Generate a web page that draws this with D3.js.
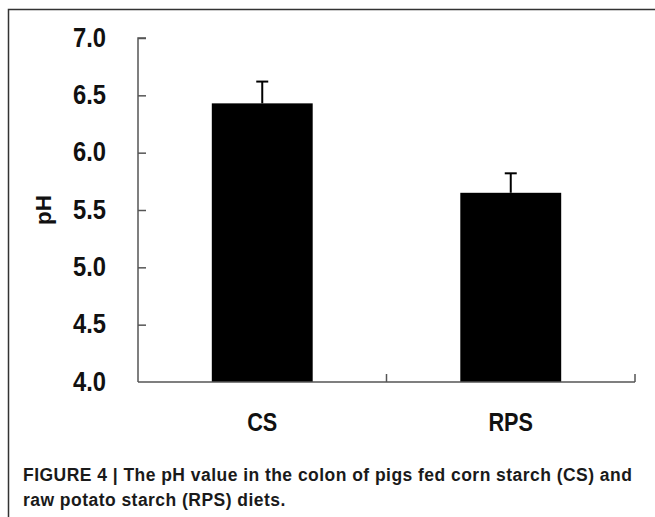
<!DOCTYPE html>
<html><head><meta charset="utf-8">
<script src="https://cdn.jsdelivr.net/npm/d3@7"></script>
<style>body{margin:0;background:#fff}svg{display:block}</style>
</head><body>
<script>
const categories = ["CS", "RPS"];
const values = [6.43, 5.65];
const errors = [0.19, 0.17];
const yTicks = [4.0, 4.5, 5.0, 5.5, 6.0, 6.5, 7.0];
const yLabel = "pH";
const captionLines = ["FIGURE 4 | The pH value in the colon of pigs fed corn starch (CS) and", "raw potato starch (RPS) diets."];

const W = 655, H = 517;
const svg = d3.select("body").append("svg").attr("width", W).attr("height", H);

// frame
svg.append("path").attr("d", `M8.5,${H} V9.5 H${W}`).attr("fill","none").attr("stroke","#333").attr("stroke-width",1.5);

const x = d3.scaleBand().domain(categories).range([138, 635]).padding(0);
const y = d3.scaleLinear().domain([4, 7]).range([382, 38]);
const barW = x.bandwidth() * 0.406;

// bars
svg.selectAll("rect.bar").data(categories).enter().append("rect")
  .attr("x", d => x(d) + x.bandwidth()/2 - barW/2)
  .attr("y", (d,i) => y(values[i]))
  .attr("width", barW)
  .attr("height", (d,i) => y(4) - y(values[i]))
  .attr("fill", "#000");

// error bars
const eg = svg.selectAll("g.err").data(categories).enter().append("g");
eg.append("line")
  .attr("x1", d => x(d) + x.bandwidth()/2).attr("x2", d => x(d) + x.bandwidth()/2)
  .attr("y1", (d,i) => y(values[i])).attr("y2", (d,i) => y(values[i] + errors[i]))
  .attr("stroke", "#000").attr("stroke-width", 2);
eg.append("line")
  .attr("x1", d => x(d) + x.bandwidth()/2 - 6).attr("x2", d => x(d) + x.bandwidth()/2 + 6)
  .attr("y1", (d,i) => y(values[i] + errors[i])).attr("y2", (d,i) => y(values[i] + errors[i]))
  .attr("stroke", "#000").attr("stroke-width", 2);

// y axis
const yAxis = d3.axisRight(y).tickValues(yTicks).tickSize(8).tickFormat("");
const ya = svg.append("g").attr("transform", "translate(138,0)").call(yAxis);
ya.select(".domain").attr("stroke", "#555").attr("stroke-width", 1.5).attr("d", `M8,${y(7)}H0V${y(4)}`);
ya.selectAll(".tick line").attr("stroke", "#555").attr("stroke-width", 1.5);
ya.selectAll(".tick").filter(d => d === 4).remove();

// y tick labels
svg.selectAll("text.yt").data(yTicks).enter().append("text")
  .attr("transform", d => `translate(106,${y(d) + 8.5}) scale(0.88,1)`)
  .attr("text-anchor", "end")
  .style("font-family", "'Liberation Sans', Arial, sans-serif")
  .style("font-weight", "bold").style("font-size", "27px").attr("fill", "#111")
  .text(d => d.toFixed(1));

// x axis
const xTickPos = [x.range()[0], x(categories[1]), x.range()[1]];
svg.append("line").attr("x1", 138).attr("x2", 635).attr("y1", y(4)).attr("y2", y(4))
  .attr("stroke", "#555").attr("stroke-width", 1.5);
svg.selectAll("line.xt").data(xTickPos.slice(1)).enter().append("line")
  .attr("x1", d => d).attr("x2", d => d).attr("y1", y(4)).attr("y2", y(4) - 8)
  .attr("stroke", "#555").attr("stroke-width", 1.5);

// x labels
svg.selectAll("text.xl").data(categories).enter().append("text")
  .attr("transform", d => `translate(${x(d) + x.bandwidth()/2},431) scale(0.85,1)`)
  .attr("text-anchor", "middle")
  .style("font-family", "'Liberation Sans', Arial, sans-serif")
  .style("font-weight", "bold").style("font-size", "25.5px").attr("fill", "#111")
  .text(d => d);

// y label
svg.append("text")
  .attr("transform", `translate(51,${y(5.5)}) rotate(-90)`)
  .attr("text-anchor", "middle")
  .style("font-family", "'Liberation Sans', Arial, sans-serif")
  .style("font-weight", "bold").style("font-size", "22.5px").attr("fill", "#111")
  .text(yLabel);

// caption
svg.selectAll("text.cap").data(captionLines).enter().append("text")
  .attr("x", 23).attr("y", (d,i) => 480.5 + i*25)
  .style("font-family", "'Liberation Sans', Arial, sans-serif")
  .style("font-weight", "bold").style("font-size", "17.5px").style("letter-spacing", "0.46px")
  .attr("fill", "#1a1a1a")
  .text(d => d);
</script>
</body></html>
